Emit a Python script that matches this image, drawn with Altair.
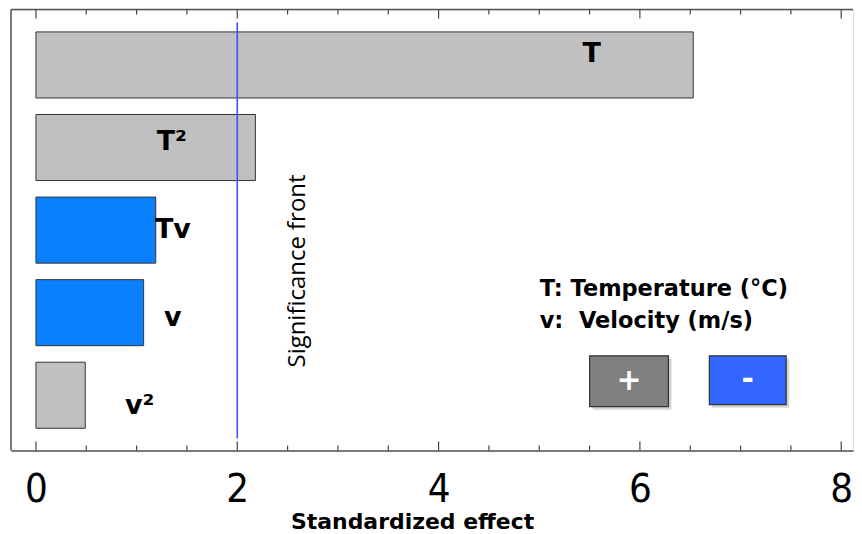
import altair as alt
import pandas as pd

# ---- data ----
factors = ["T", "T²", "Tv", "v", "v²"]
effects = [6.53, 2.18, 1.19, 1.07, 0.49]
signs = ["+", "+", "-", "-", "+"]
label_x = [5.52, 1.35, 1.36, 1.36, 1.03]
significance = 2.0
major_ticks = [0, 2, 4, 6, 8]
minor_ticks = [0.5, 1, 1.5, 2.5, 3, 3.5, 4.5, 5, 5.5, 6.5, 7, 7.5]
legend_lines = ["T: Temperature (°C)", "v:\u00a0 Velocity (m/s)"]

bars = pd.DataFrame({"factor": factors, "effect": effects, "sign": signs, "lx": label_x})
sig = pd.DataFrame({"x": [significance], "label": ["Significance front"], "lx": [2.6]})
maj = pd.DataFrame({"t": major_ticks})
mnr = pd.DataFrame({"t": minor_ticks})

W, H = 844, 442
xscale = alt.Scale(domain=[-0.2478, 8.117], nice=False, zero=False)
yscale = alt.Scale(domain=factors, paddingInner=0.2, paddingOuter=0.27)

base = alt.Chart(bars)

bar_layer = base.mark_bar(stroke="#333333", strokeWidth=1).encode(
    x=alt.X("effect:Q", scale=xscale,
            axis=alt.Axis(values=major_ticks, format="d", title="Standardized effect",
                          ticks=False, domain=True, domainColor="#555555", domainWidth=1.5,
                          grid=False,
                          labelFont="DejaVu Sans Condensed, Liberation Sans Narrow, Liberation Sans",
                          labelFontSize=40, labelColor="#000000", labelPadding=19,
                          titleFont="DejaVu Sans", titleFontSize=22, titleFontWeight="bold",
                          titleColor="#000000", titleX=402, titleY=71,
                          titleBaseline="middle", titleAlign="center")),
    x2=alt.X2("zero:Q"),
    y=alt.Y("factor:N", scale=yscale, axis=None, sort=factors),
    color=alt.Color("sign:N", scale=alt.Scale(domain=["+", "-"], range=["#c0c0c0", "#0a80ff"]),
                    legend=None),
).transform_calculate(zero="0")

label_layer = base.mark_text(font="DejaVu Sans", fontWeight="bold", fontSize=27,
                             color="#000000", baseline="middle", align="center").encode(
    x=alt.X("lx:Q", scale=xscale),
    y=alt.Y("factor:N", scale=yscale, sort=factors, axis=None),
    text="factor:N",
)

sig_rule = alt.Chart(sig).mark_rule(color="#4a4aff", strokeWidth=1.6).encode(
    x=alt.X("x:Q", scale=xscale), y=alt.value(13), y2=alt.value(430))

sig_text = alt.Chart(sig).mark_text(angle=270, font="Open Sans", fontSize=24,
                                    color="#000000", baseline="middle", align="center").encode(
    x=alt.X("lx:Q", scale=xscale), y=alt.value(262), text="label:N")

frame_top = alt.Chart(sig).mark_rule(color="#555555", strokeWidth=1.5).encode(
    x=alt.value(0), x2=alt.value(W), y=alt.value(0))
frame_left = alt.Chart(sig).mark_rule(color="#555555", strokeWidth=1.5).encode(
    x=alt.value(0), y=alt.value(0), y2=alt.value(H))

def ticks(df, y0, y1):
    return alt.Chart(df).mark_rule(color="#444444", strokeWidth=1.2).encode(
        x=alt.X("t:Q", scale=xscale), y=alt.value(y0), y2=alt.value(y1))

tick_layers = [ticks(maj, 0, 9), ticks(mnr, 0, 5), ticks(maj, H - 9, H), ticks(mnr, H - 5, H)]

leg_df = pd.DataFrame({"txt": legend_lines, "row": [0, 1]})
leg_text = alt.Chart(leg_df).mark_text(font="DejaVu Sans", fontWeight="bold", fontSize=22.5,
                                       color="#000000", align="left", baseline="middle").encode(
    x=alt.value(530), y=alt.Y("row:Q", scale=alt.Scale(domain=[0, 1], range=[280, 312]), axis=None),
    text="txt:N")

box_df = pd.DataFrame({"s": ["+", "-"]})
def box(sym, fill, x0, x1, y0, y1):
    d = box_df[box_df.s == sym]
    shadow = alt.Chart(d).mark_rect(fill="#b8b8b8", opacity=0.6).encode(
        x=alt.value(x0 + 3), x2=alt.value(x1 + 3), y=alt.value(y0 + 3), y2=alt.value(y1 + 3))
    rect = alt.Chart(d).mark_rect(fill=fill, stroke="#333333", strokeWidth=1.2).encode(
        x=alt.value(x0), x2=alt.value(x1), y=alt.value(y0), y2=alt.value(y1))
    txt = alt.Chart(d).mark_text(font="DejaVu Sans", fontWeight="bold", fontSize=30,
                                 color="#ffffff", align="center", baseline="middle").encode(
        x=alt.value((x0 + x1) / 2), y=alt.value((y0 + y1) / 2), text="s:N")
    return [shadow, rect, txt]

legend_layers = box("+", "#808080", 580, 659, 347, 398) + box("-", "#3366ff", 700, 777, 347, 396)

chart = alt.layer(bar_layer, label_layer, sig_rule, sig_text, frame_top, frame_left,
                  *tick_layers, leg_text, *legend_layers).properties(
    width=W, height=H, padding={"left": 2, "top": 0, "right": 0, "bottom": 0},
).configure_view(stroke=None).configure(background="#ffffff")

chart.save("out.html", embed_options={"renderer": "svg", "actions": False})
